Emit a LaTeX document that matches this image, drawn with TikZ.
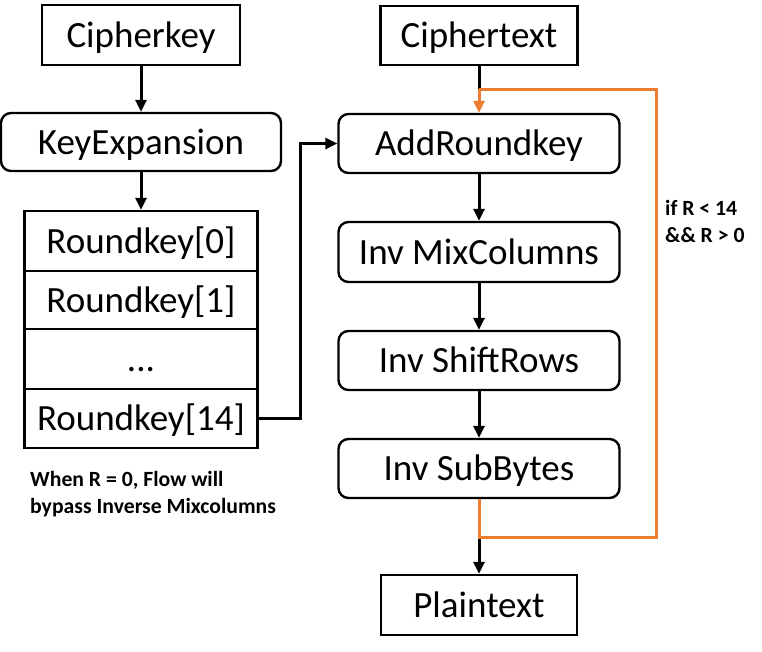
\documentclass[tikz,border=0pt]{standalone}
\usepackage{fontspec}
\setmainfont{Carlito}
\usetikzlibrary{arrows.meta}
\definecolor{loopor}{HTML}{ED7D31}
\begin{document}
\begin{tikzpicture}[x=1pt,y=-1pt,
  box/.style={draw=black,line width=2.4pt,inner sep=0pt,minimum height=59pt,font=\fontsize{37}{40}\selectfont,text height=31pt,text depth=7pt},
  rbox/.style={box,rounded corners=10pt},
  conn/.style={line width=3pt,-{Triangle[width=11pt,length=12pt]}},
  plainline/.style={line width=3pt},
  orline/.style={draw=loopor,line width=3pt},
  note/.style={font=\fontsize{21.7}{27}\selectfont\bfseries,align=left,inner sep=0pt}]
\useasboundingbox (0,0) rectangle (762,651);
% left column
\node[box,minimum width=198pt,minimum height=60pt] (ck) at (141,35) {Cipherkey};
\node[rbox,minimum width=280pt,minimum height=58pt] (ke) at (141,142) {KeyExpansion};
\node[box,minimum width=233pt,minimum height=60pt] (rk0) at (141,241) {Roundkey[0]};
\node[box,minimum width=233pt,minimum height=58pt] (rk1) at (141,300) {Roundkey[1]};
\node[box,minimum width=233pt,minimum height=60pt] (rkd) at (141,359) {...};
\node[box,minimum width=233pt,minimum height=59pt] (rk14) at (141,418.5) {Roundkey[14]};
% right column
\node[box,minimum width=197pt] (ct) at (479,35.5) {Ciphertext};
\node[rbox,minimum width=281pt] (add) at (479,143.5) {AddRoundkey};
\node[rbox,minimum width=281pt,minimum height=60pt] (mix) at (479,252) {Inv MixColumns};
\node[rbox,minimum width=281pt] (shift) at (479,360.5) {Inv ShiftRows};
\node[rbox,minimum width=281pt] (sub) at (479,468.5) {Inv SubBytes};
\node[box,minimum width=196pt,minimum height=60pt] (pt) at (479,605) {Plaintext};
% notes
\node[note,anchor=west] (n1) at (665,221) {if R < 14\\\&\& R > 0};
\node[note,anchor=west] (n2) at (30,494) {When R = 0, Flow will\\bypass Inverse Mixcolumns};
% coordinates
\coordinate (lt) at (479,89);
\coordinate (lb) at (479,537);
\coordinate (rt) at (656,89);
\coordinate (rb) at (656,537);
% connectors
\draw[conn] (ck.south) -- (ke.north);
\draw[conn] (ke.south) -- (rk0.north);
\draw[conn] (rk14.east) -- ++(42,0) |- (add.west);
\draw[plainline] (ct.south) -- (lt);
\draw[conn] (add.south) -- (mix.north);
\draw[conn] (mix.south) -- (shift.north);
\draw[conn] (shift.south) -- (sub.north);
\draw[conn] (lb) -- (pt.north);
\draw[orline] (sub.south) -- (lb) -- (rb) -- (rt) -- (lt);
\draw[orline,conn,draw=loopor,fill=loopor] (lt) -- (add.north);
\end{tikzpicture}
\end{document}
